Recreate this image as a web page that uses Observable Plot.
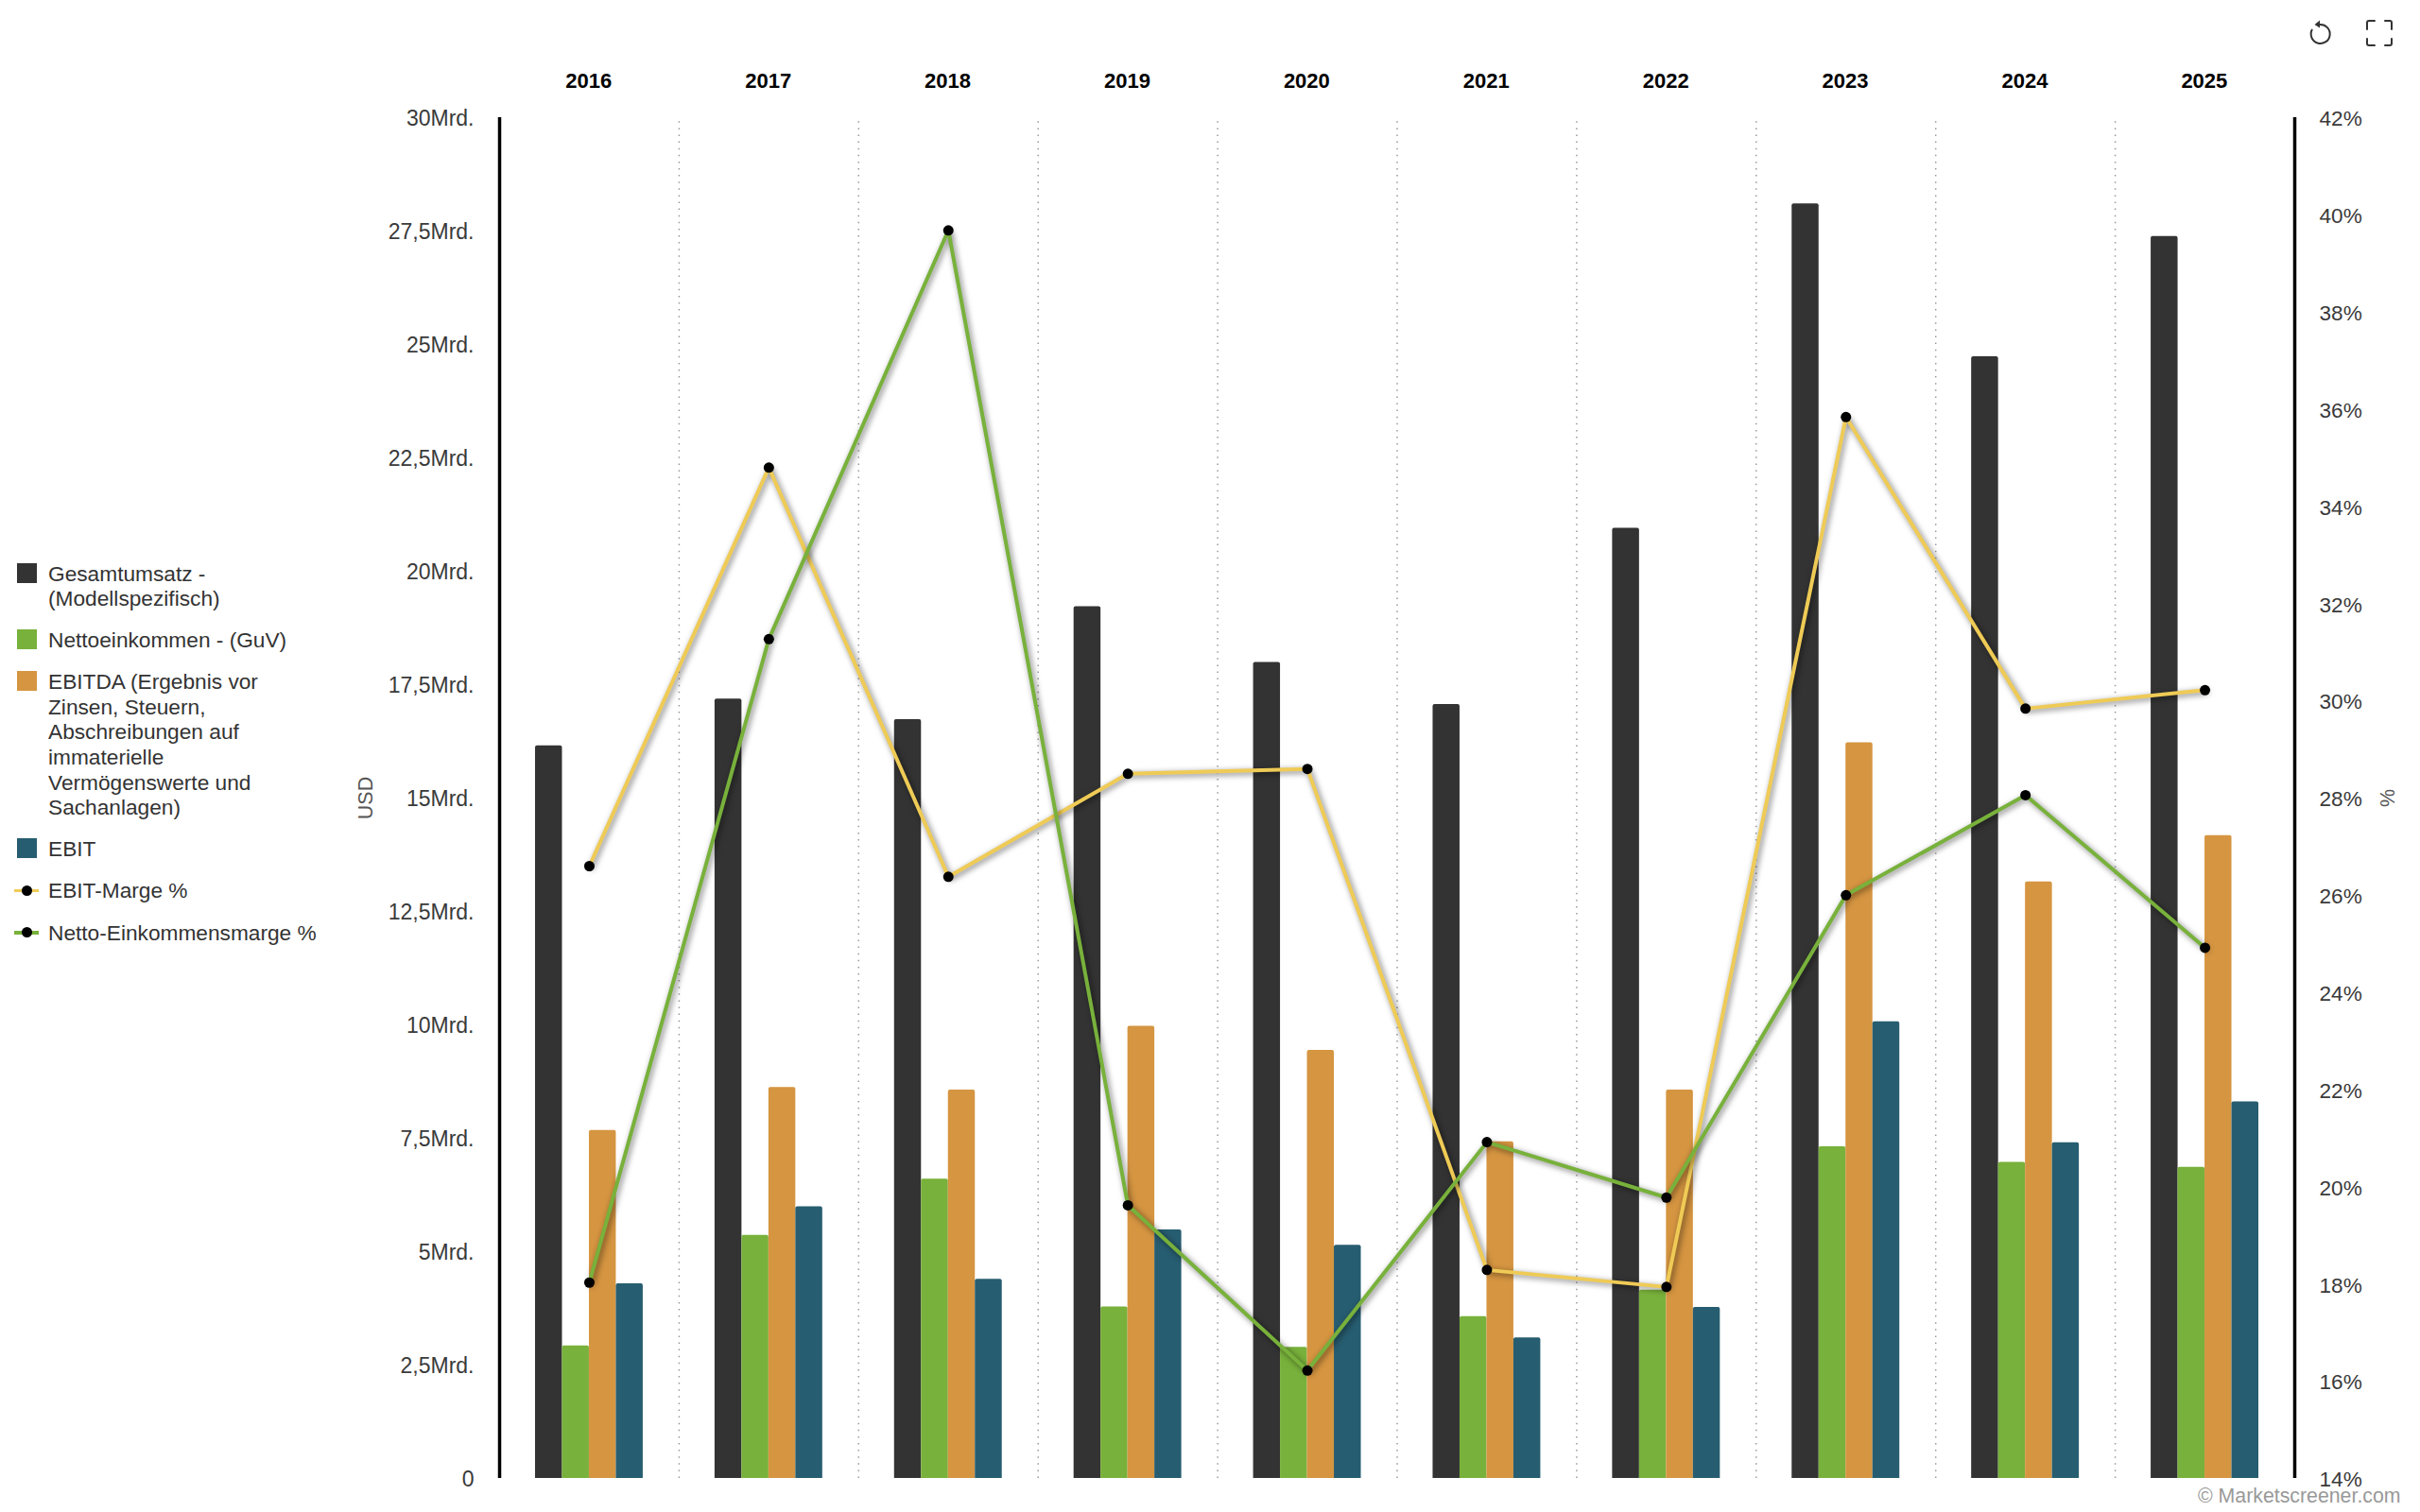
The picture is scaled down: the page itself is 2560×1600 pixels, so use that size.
<!DOCTYPE html>
<html><head><meta charset="utf-8">
<script src="https://cdn.jsdelivr.net/npm/d3@7"></script>
<script src="https://cdn.jsdelivr.net/npm/@observablehq/plot@0.6"></script>
<style>
html,body{margin:0;padding:0;background:#fff;width:2560px;height:1600px;overflow:hidden}
body{position:relative;font-family:"Liberation Sans",Arial,sans-serif;color:#333}
#chart{position:absolute;left:0;top:0}
#chart g[aria-label="line"]{filter:drop-shadow(2px 2px 3px rgba(0,0,0,.55))}
#legend{position:absolute;left:13px;top:593.5px;display:flex;flex-direction:column;gap:17.5px;font-size:22.7px;line-height:26.6px}
.item{display:flex;align-items:flex-start}
.sw{width:26px;height:26.6px;flex:none;margin-right:12px;position:relative}
.sw i{position:absolute;left:5px;top:2px;width:21px;height:21px;display:block}
.sw b{position:absolute;left:2px;top:11.5px;width:26px;height:3.5px;display:block}
.sw u{position:absolute;left:9.5px;top:7.5px;width:11px;height:11px;border-radius:50%;background:#000;display:block}
#copy{position:absolute;left:2325px;top:1571px;font-size:21.3px;color:#999;line-height:24px;white-space:nowrap}
#icons{position:absolute;left:2434px;top:18.5px}
</style></head><body>
<div id="chart"></div>
<div id="legend"></div>
<div id="copy">© Marketscreener.com</div>
<svg id="icons" width="100" height="32" viewBox="0 0 100 32" fill="none" stroke="#333" stroke-width="2">
<path d="M20 7 A10 10 0 1 1 12 12" /><path d="M20 2.5 L14.5 7 L20 10.5 Z" fill="#333" stroke="none"/>
<path d="M70 12 V5 Q70 3 72 3 H78 M89 3 H94 Q96 3 96 5 V12 M96 22 V27 Q96 29 94 29 H89 M78 29 H72 Q70 29 70 27 V22" stroke-linecap="round"/>
</svg>
<script>
const years = [2016,2017,2018,2019,2020,2021,2022,2023,2024,2025];
const umsatz = [16.15,17.18,16.73,19.22,17.99,17.06,20.95,28.1,24.73,27.38];
const netto = [2.92,5.36,6.6,3.78,2.89,3.57,4.15,7.31,6.97,6.86];
const ebitda = [7.67,8.62,8.56,9.97,9.44,7.42,8.56,16.22,13.15,14.17];
const ebit = [4.29,5.99,4.39,5.48,5.14,3.1,3.77,10.07,7.4,8.3];
const ebitMarge = [26.6,34.8,26.38,28.5,28.6,18.29,17.94,35.84,29.84,30.22];
const nettoMarge = [18.03,31.27,39.68,19.62,16.22,20.92,19.78,26.0,28.06,24.92];
const leftTicks = [0,2.5,5,7.5,10,12.5,15,17.5,20,22.5,25,27.5,30];
const rightTicks = [14,16,18,20,22,24,26,28,30,32,34,36,38,40,42];
const seriesColors = ["#333333","#78b13b","#d59541","#275d70"];
const lineColors = ["#efcb56","#78b13b"];
const legendLines = [
 ["Gesamtumsatz -","(Modellspezifisch)"],["Nettoeinkommen - (GuV)"],
 ["EBITDA (Ergebnis vor","Zinsen, Steuern,","Abschreibungen auf","immaterielle","Vermögenswerte und","Sachanlagen)"],["EBIT"]];
const lineLegend = ["EBIT-Marge %","Netto-Einkommensmarge %"];

const toLeft = p => (p - 14) / 28 * 30;
const fromLeft = v => v / 30 * 28 + 14;
const fmtLeft = v => v === 0 ? "0" : String(v).replace(".", ",") + "Mrd.";
const barW = 0.15;
const table = [umsatz, netto, ebitda, ebit].flatMap((vals, s) =>
  vals.map((v, i) => ({year: years[i], s, v, x1: years[i] - 2 * barW + s * barW, x2: years[i] - 2 * barW + (s + 1) * barW})));
const lineTable = m => m.map((p, i) => ({year: years[i], y: toLeft(p)}));
const seps = years.slice(0, -1).map(y => y + 0.5);

const fig = Plot.plot({
  width: 2560, height: 1600,
  marginLeft: 528, marginRight: 133, marginTop: 124, marginBottom: 36,
  style: {background: "transparent", fontFamily: '"Liberation Sans",Arial,sans-serif', overflow: "visible"},
  x: {domain: [2015.5, 2025.5], axis: null},
  y: {domain: [0, 30], axis: null},
  marks: [
    Plot.ruleX(seps, {x: d => d, y1: 0, y2: 30, stroke: "#999", strokeWidth: 1.5, strokeDasharray: "1.5,5.6"}),
    Plot.rectY(table, {x1: "x1", x2: "x2", y1: 0, y2: "v", fill: d => seriesColors[d.s], ry2: 2}),
    Plot.ruleX([2015.5, 2025.5], {y1: 0, y2: 30, stroke: "#000", strokeWidth: 3.5}),
    Plot.axisX({anchor: "top", ticks: years, tickFormat: d => String(d), tickSize: 0, tickPadding: 32, dx: -0.7, label: null, fontSize: 22, fontWeight: "bold", fill: "#000"}),
    Plot.axisY({anchor: "left", ticks: leftTicks, tickFormat: fmtLeft, tickSize: 0, tickPadding: 27, dy: 1.5, label: null, fontSize: 23, fill: "#3a3a3a"}),
    Plot.axisY({anchor: "right", ticks: rightTicks.map(toLeft), tickFormat: v => Math.round(fromLeft(v)) + "%", tickSize: 0, tickPadding: 26, dy: 1.5, label: null, fontSize: 22.6, fill: "#3a3a3a"}),
    Plot.text(["USD"], {frameAnchor: "left", textAnchor: "middle", dx: -141, rotate: -90, fontSize: 21.5, fill: "#555"}),
    Plot.text(["%"], {frameAnchor: "right", textAnchor: "middle", dx: 99, rotate: -90, fontSize: 21.5, fill: "#555"}),
    Plot.line(lineTable(ebitMarge), {x: "year", y: "y", stroke: lineColors[0], strokeWidth: 4}),
    Plot.line(lineTable(nettoMarge), {x: "year", y: "y", stroke: lineColors[1], strokeWidth: 4}),
    Plot.dot(lineTable(ebitMarge), {x: "year", y: "y", r: 5.5, fill: "#000"}),
    Plot.dot(lineTable(nettoMarge), {x: "year", y: "y", r: 5.5, fill: "#000"}),
  ]
});
document.getElementById("chart").append(fig);

const legend = document.getElementById("legend");
legendLines.forEach((lines, i) => {
  const it = document.createElement("div"); it.className = "item";
  it.innerHTML = `<span class="sw"><i style="background:${seriesColors[i]}"></i></span><span>${lines.join("<br>")}</span>`;
  legend.append(it);
});
lineLegend.forEach((t, i) => {
  const it = document.createElement("div"); it.className = "item";
  it.innerHTML = `<span class="sw"><b style="background:${lineColors[i]}"></b><u></u></span><span>${t}</span>`;
  legend.append(it);
});
</script>
</body></html>
